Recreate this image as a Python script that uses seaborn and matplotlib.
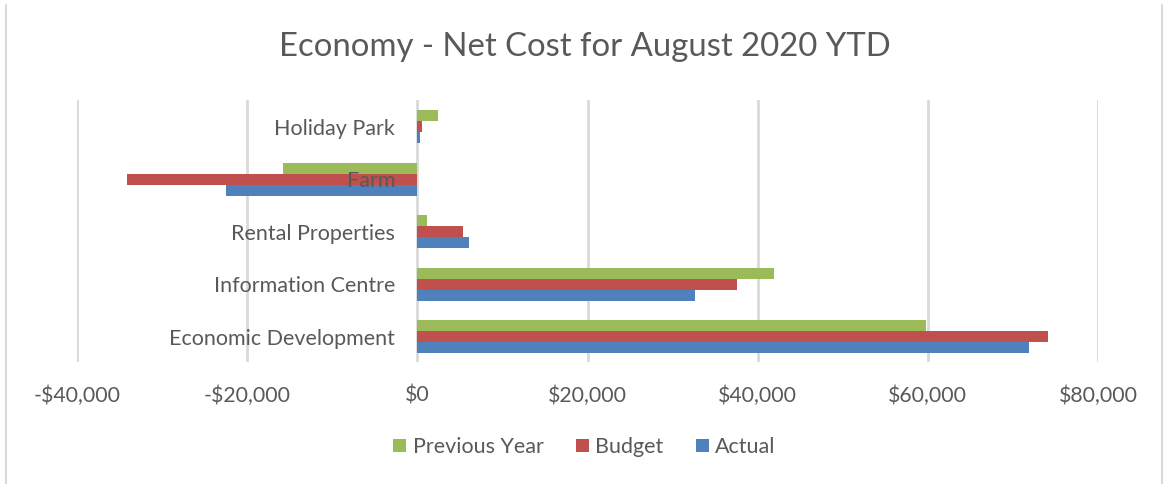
import matplotlib
matplotlib.use("Agg")
import matplotlib.pyplot as plt
from matplotlib.lines import Line2D
from matplotlib.patches import Patch
from matplotlib.ticker import FuncFormatter
import seaborn as sns
import pandas as pd

categories = ["Holiday Park", "Farm", "Rental Properties", "Information Centre", "Economic Development"]
previous_year = [2430, -15800, 1180, 41870, 59740]
budget = [500, -34150, 5370, 37530, 74120]
actual = [300, -22470, 6080, 32590, 71850]
series_names = ["Previous Year", "Budget", "Actual"]
x_ticks = [-40000, -20000, 0, 20000, 40000, 60000, 80000]

colors = {"Previous Year": "#9BBB59", "Budget": "#C0504D", "Actual": "#4F81BD"}
text_color = "#595959"
grid_color = "#D9D9D9"

df = pd.DataFrame({
    "category": categories * 3,
    "series": [s for s in series_names for _ in categories],
    "value": previous_year + budget + actual,
})

sns.set_theme(style="white")
plt.rcParams["font.family"] = ["Lato", "DejaVu Sans"]

fig = plt.figure(figsize=(11.69, 4.84), dpi=100)
ax = fig.add_axes([77 / 1169, 122 / 484, 1021 / 1169, 262 / 484])

sns.barplot(data=df, x="value", y="category", hue="series", order=categories,
            hue_order=series_names, palette=colors, orient="h", width=0.63,
            dodge=True, legend=False, ax=ax, saturation=1, edgecolor="none")

ax.set_xlim(-40000, 80000)
ax.set_ylim(4.48, -0.51)
ax.set_xticks(x_ticks)
ax.xaxis.set_major_formatter(FuncFormatter(lambda v, _: f"-${abs(v):,.0f}" if v < 0 else f"${v:,.0f}"))
ax.grid(axis="x", color=grid_color, linewidth=2)
ax.grid(axis="y", visible=False)
ax.set_axisbelow(True)
for sp in ax.spines.values():
    sp.set_visible(False)

# category labels sit beside the zero line, drawn over the bars
ax.spines["left"].set_position(("data", 0))
ax.yaxis.set_zorder(5)
ax.tick_params(axis="y", length=0, pad=16, labelsize=15.5, labelcolor=text_color)
ax.tick_params(axis="x", length=0, pad=17, labelsize=15.3, labelcolor=text_color)
ax.set_xlabel("")
ax.set_ylabel("")

fig.text(0.5, 1 - 47 / 484, "Economy - Net Cost for August 2020 YTD", ha="center", va="center",
         fontsize=23.7, color=text_color)

handles = [Patch(facecolor=colors[s], edgecolor="none", label=s) for s in series_names]
fig.legend(handles=handles, loc="center", bbox_to_anchor=(0.5, 1 - 447 / 484), ncol=3,
           frameon=False, fontsize=15.5, labelcolor=text_color, handlelength=0.6,
           handleheight=0.6, handletextpad=0.3, columnspacing=1.5)

# chart frame
fig.add_artist(Line2D([6 / 1169, 6 / 1169], [0, 1 - 5 / 484], color=grid_color, linewidth=1.5))
fig.add_artist(Line2D([1162 / 1169, 1162 / 1169], [0, 1 - 5 / 484], color=grid_color, linewidth=1.5))

fig.savefig("out.png", dpi=100, facecolor="white")
